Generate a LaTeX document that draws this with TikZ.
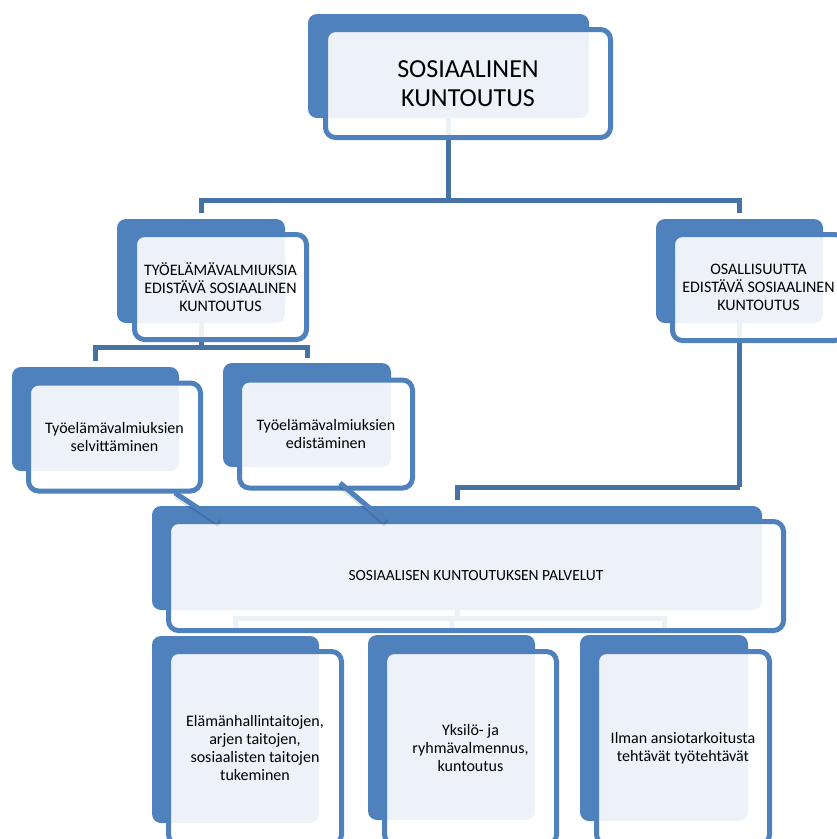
\documentclass[tikz,border=0pt]{standalone}
\usepackage{fontspec}
\setmainfont{Carlito}
\definecolor{bblue}{RGB}{79,129,189}
\definecolor{cblue}{RGB}{70,114,166}
\pgfdeclarelayer{base}
\pgfdeclarelayer{bg}
\pgfsetlayers{base,bg,main}
\begin{document}
\begin{tikzpicture}[x=1pt,y=-1pt,
  backbox/.style={fill=bblue, rounded corners=9pt, inner sep=0pt, outer sep=0pt},
  frontbox/.style={draw=bblue, line width=5pt, fill=white, fill opacity=0.9, text opacity=1,
    rounded corners=10pt, inner sep=0pt, outer sep=0pt, align=center, text=black,
    font=\fontsize{16}{17.7}\selectfont},
  bigtext/.style={font=\fontsize{26}{28.5}\selectfont},
  conn/.style={draw=cblue, line width=5pt},
  diag/.style={draw=bblue, line width=5pt},
  diagshadow/.style={draw=black, opacity=0.12, line width=7pt},
]
\clip (0,0) rectangle (837,839);
\begin{pgfonlayer}{base}
  \fill[white] (0,0) rectangle (837,839);
\end{pgfonlayer}

% back boxes
\node[backbox, minimum width=281pt, minimum height=104pt] (topB) at (448.5,66) {};
\node[backbox, minimum width=168pt, minimum height=104pt] (l2aB) at (201,271) {};
\node[backbox, minimum width=167pt, minimum height=104pt] (l2bB) at (739.5,271) {};
\node[backbox, minimum width=167pt, minimum height=104pt] (a1B) at (95.5,419) {};
\node[backbox, minimum width=168pt, minimum height=104pt] (a2B) at (307,415) {};
\node[backbox, minimum width=610pt, minimum height=104pt] (sosB) at (457,558) {};
\node[backbox, minimum width=167pt, minimum height=187pt] (b1B) at (235.5,729.5) {};
\node[backbox, minimum width=167pt, minimum height=185pt] (b2B) at (451.5,727.5) {};
\node[backbox, minimum width=168pt, minimum height=186pt] (b3B) at (664,728) {};

% front boxes
\node[frontbox, bigtext, minimum width=285pt, minimum height=108pt] (topF) at (468,83.5)
  {SOSIAALINEN\\KUNTOUTUS};
\node[frontbox, minimum width=172pt, minimum height=105pt] (l2aF) at (220.5,287)
  {TYÖELÄMÄVALMIUKSIA\\EDISTÄVÄ SOSIAALINEN\\KUNTOUTUS};
\node[frontbox, minimum width=172pt, minimum height=106pt] (l2bF) at (758.5,287.5)
  {OSALLISUUTTA\\EDISTÄVÄ SOSIAALINEN\\KUNTOUTUS};
\node[frontbox, minimum width=172pt, minimum height=108pt] (a1F) at (114.5,437)
  {Työelämävalmiuksien\\selvittäminen};
\node[frontbox, minimum width=173pt, minimum height=108pt] (a2F) at (326,434)
  {Työelämävalmiuksien\\edistäminen};
\node[frontbox, minimum width=615pt, minimum height=109pt, font=\fontsize{15.5}{17}\selectfont] (sosF) at (476,576)
  {SOSIAALISEN KUNTOUTUKSEN PALVELUT};
\node[frontbox, minimum width=173pt, minimum height=193pt] (b1F) at (255,748)
  {Elämänhallintaitojen,\\arjen taitojen,\\sosiaalisten taitojen\\tukeminen};
\node[frontbox, minimum width=172pt, minimum height=193pt] (b2F) at (470.5,748)
  {Yksilö- ja\\ryhmävalmennus,\\kuntoutus};
\node[frontbox, minimum width=173pt, minimum height=193pt] (b3F) at (683,748)
  {Ilman ansiotarkoitusta\\tehtävät työtehtävät};

% connectors (behind boxes)
\coordinate (h1) at (448.5,200);
\coordinate (h2) at (201,347);
\coordinate (h3) at (739.5,487);
\coordinate (h4) at (457,618);
\begin{pgfonlayer}{bg}
  \draw[conn] (topB.south) -- (h1);
  \draw[conn, shorten >=6pt] (h1) -| (l2aB.north);
  \draw[conn, shorten >=6pt] (h1) -| (l2bB.north);
  \draw[conn] (l2aB.south) -- (h2);
  \draw[conn, shorten >=6pt] (h2) -| (a1B.north);
  \draw[conn, shorten >=5pt] (h2) -| (a2B.north);
  \draw[conn] (l2bB.south) -- (h3);
  \draw[conn, shorten >=6pt] (h3) -| (sosB.north);
  \draw[conn] (sosB.south) -- (h4);
  \draw[conn, shorten >=3pt] (h4) -| (b1B.north);
  \draw[conn, shorten >=3pt] (h4) -| (b2B.north);
  \draw[conn, shorten >=3pt] (h4) -| (b3B.north);
\end{pgfonlayer}

% diagonal links into the services box
\coordinate (d1s) at (175,493);
\coordinate (d1e) at (218,521);
\coordinate (d2s) at (340,483);
\coordinate (d2e) at (385,521);
\draw[diagshadow] ([shift={(1.5,2.5)}]d1s) -- ([shift={(1.5,2.5)}]d1e);
\draw[diagshadow] ([shift={(1.5,2.5)}]d2s) -- ([shift={(1.5,2.5)}]d2e);
\draw[diag] (d1s) -- (d1e);
\draw[diag] (d2s) -- (d2e);
\end{tikzpicture}
\end{document}
